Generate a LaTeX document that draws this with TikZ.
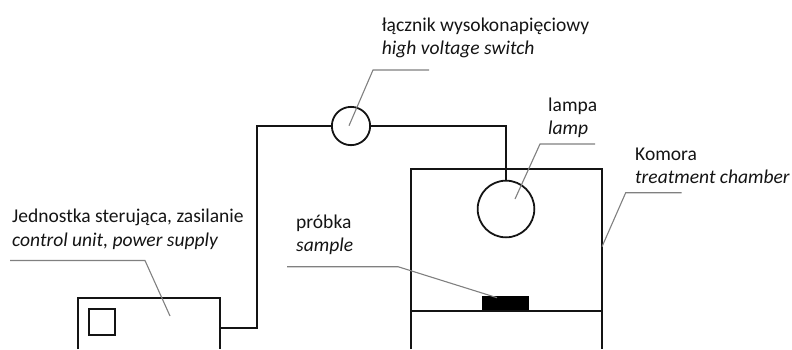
\documentclass[tikz,border=0pt]{standalone}
\usepackage{fontspec}
\setmainfont{Carlito}
\tikzset{
  pic line/.style={draw=black!92, line width=1.8bp},
  leader/.style={draw=black!50, line width=1.1bp},
  lbl/.style={inner sep=0pt, anchor=base west, text=black!92, font=\fontsize{19.6pt}{22pt}\selectfont}
}
\begin{document}
\begin{tikzpicture}[x=1bp,y=-1bp]
\useasboundingbox (0,0) rectangle (792,349);
\coordinate (boxTR) at (220,298);
\coordinate (boxTL) at (78,298);
\coordinate (boxBL) at (78,349);
\coordinate (boxBR) at (220,349);
\node[pic line,inner sep=0pt,minimum width=26bp,minimum height=26bp] (sq) at (102,322) {};
\coordinate (w1) at (220,328);
\coordinate (w2) at (257,328);
\coordinate (w3) at (257,126);
\node[circle,pic line,minimum size=38.3bp,inner sep=0pt] (sw) at (351,126) {};
\node[circle,pic line,minimum size=56.7bp,inner sep=0pt] (lamp) at (506,209) {};
\coordinate (w4) at (506,126);
\coordinate (chTL) at (411,349);
\coordinate (chTL2) at (411,169);
\coordinate (chTR) at (602,169);
\coordinate (chBR) at (602,349);
\coordinate (shL) at (411,311);
\coordinate (shR) at (602,311);
\node[fill=black,inner sep=0pt,minimum width=47bp,minimum height=15bp] (sample) at (505.3,303.2) {};
\draw[pic line] (boxBL)--(boxTL)--(boxTR)--(boxBR);
\draw[pic line] (w1)--(w2)--(w3)--(sw.west);
\draw[pic line] (sw.east)--(w4)--(lamp.north);
\draw[pic line] (chTL)--(chTL2)--(chTR)--(chBR);
\draw[pic line] (shL)--(shR);
\coordinate (l1a) at (429,70); \coordinate (l1b) at (373,70); \coordinate (l1c) at (349,125.7);
\draw[leader] (l1a)--(l1b)--(l1c);
\coordinate (l2a) at (595,144); \coordinate (l2b) at (540,144); \coordinate (l2c) at (515,199);
\draw[leader] (l2a)--(l2b)--(l2c);
\coordinate (l3a) at (681.7,192.7); \coordinate (l3b) at (625.7,192.7); \coordinate (l3c) at (602,246.7);
\draw[leader] (l3a)--(l3b)--(l3c);
\coordinate (l4a) at (287,266.7); \coordinate (l4b) at (398,266.7); \coordinate (l4c) at (497,297.7);
\draw[leader] (l4a)--(l4b)--(l4c);
\coordinate (l5a) at (10,260.5); \coordinate (l5b) at (145,260.5); \coordinate (l5c) at (170,316);
\draw[leader] (l5a)--(l5b)--(l5c);
\node[lbl] (t1) at (381.7,31) {łącznik wysokonapięciowy};
\node[lbl] (t1b) at (381.7,54) {\itshape high voltage switch};
\node[lbl] (t2) at (548,111) {lampa};
\node[lbl] (t2b) at (548,134) {\itshape lamp};
\node[lbl] (t3) at (635,160.7) {Komora};
\node[lbl] (t3b) at (635,183.3) {\itshape treatment chamber};
\node[lbl] (t4) at (296,228) {próbka};
\node[lbl] (t4b) at (296,251) {\itshape sample};
\node[lbl] (t5) at (12,222) {Jednostka sterująca, zasilanie};
\node[lbl] (t5b) at (12,246) {\itshape control unit, power supply};
\end{tikzpicture}
\end{document}
